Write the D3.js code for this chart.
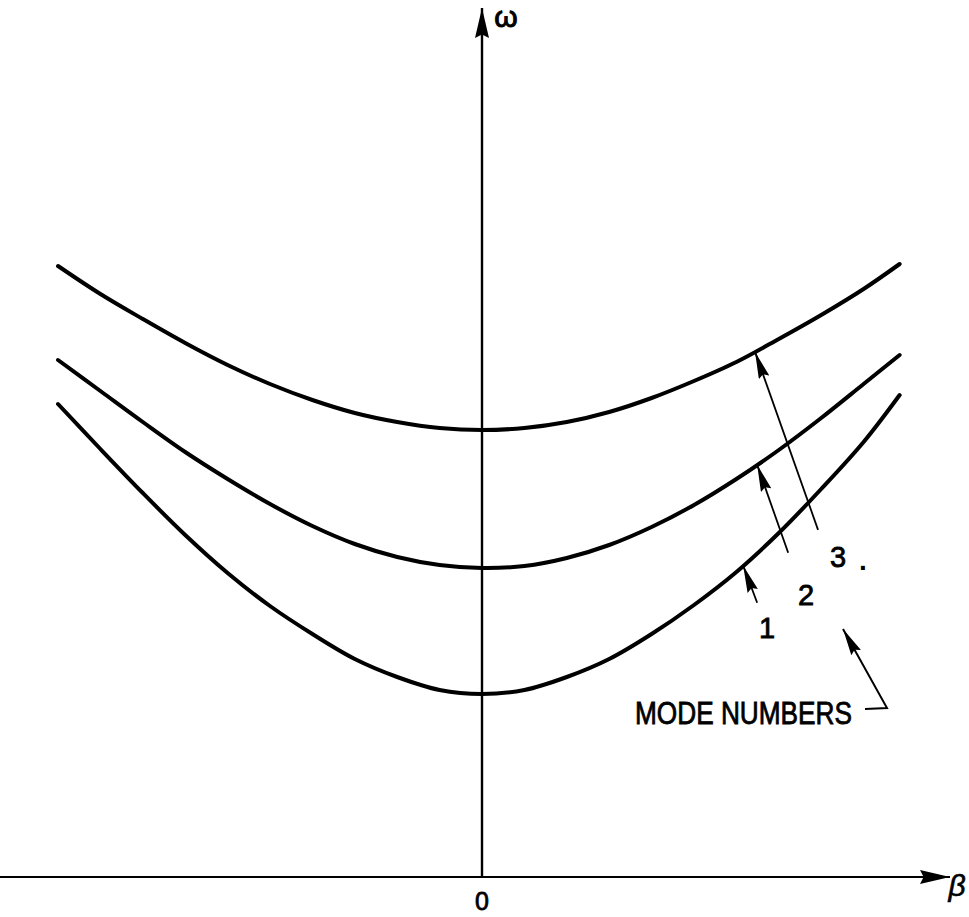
<!DOCTYPE html>
<html>
<head>
<meta charset="utf-8">
<script src="https://cdn.jsdelivr.net/npm/d3@7"></script>
<style>
  html, body { margin: 0; padding: 0; background: #fff; }
  svg { display: block; }
  text { font-family: "Liberation Sans", Arial, sans-serif; fill: #000; }
</style>
</head>
<body>
<svg id="chart" width="969" height="917"></svg>
<script>
// Dispersion curves: frequency ω against wavenumber β for the first three modes
const beta = [-1.0, -0.9, -0.8, -0.7, -0.6, -0.5, -0.4, -0.3, -0.2, -0.1, 0,
              0.1, 0.2, 0.3, 0.4, 0.5, 0.6, 0.7, 0.8, 0.9, 0.985];
const mode1 = [4.73, 4.28, 3.84, 3.42, 3.04, 2.71, 2.43, 2.18, 2.00, 1.87, 1.83,
               1.87, 2.00, 2.18, 2.43, 2.72, 3.05, 3.44, 3.88, 4.35, 4.82];
const mode2 = [5.17, 4.86, 4.55, 4.25, 3.98, 3.73, 3.51, 3.33, 3.20, 3.12, 3.09,
               3.11, 3.19, 3.32, 3.50, 3.72, 3.98, 4.27, 4.59, 4.93, 5.22];
const mode3 = [6.11, 5.83, 5.58, 5.34, 5.12, 4.93, 4.77, 4.64, 4.55, 4.49, 4.47,
               4.49, 4.55, 4.65, 4.79, 4.96, 5.15, 5.38, 5.62, 5.88, 6.13];
const modeLabels = ["1", "2", "3"];
// β at which each mode-number pointer touches its curve
const pointerBeta = [0.616, 0.649, 0.644];
const tickLabels = ["0"];
const axisLabels = { x: "β", y: "ω" };
const noteText = "MODE NUMBERS";

const svg = d3.select("#chart");
const x = d3.scaleLinear().domain([-1, 1]).range([58, 906]);
const y = d3.scaleLinear().domain([0, 8.77]).range([877, 0]);

// arrowhead markers
const defs = svg.append("defs");
function dart(id, len, half) {
  defs.append("marker")
    .attr("id", id)
    .attr("viewBox", `0 ${-half} ${len} ${2 * half}`)
    .attr("refX", len).attr("refY", 0)
    .attr("markerUnits", "userSpaceOnUse")
    .attr("markerWidth", len).attr("markerHeight", 2 * half)
    .attr("orient", "auto")
    .append("path")
    .attr("d", `M0,${-half} L${len},0 L0,${half} L${len * 0.12},0 Z`)
    .attr("fill", "#000");
}
dart("axisHead", 30, 7);
dart("ptrHead", 27, 5.5);

// axes
const x0 = x(0), yBase = y(0);
svg.append("line")
  .attr("x1", 0).attr("y1", yBase).attr("x2", 950).attr("y2", yBase)
  .attr("stroke", "#000").attr("stroke-width", 2.2)
  .attr("marker-end", "url(#axisHead)");
svg.append("line")
  .attr("x1", x0).attr("y1", yBase).attr("x2", x0).attr("y2", 8)
  .attr("stroke", "#000").attr("stroke-width", 2.4)
  .attr("marker-end", "url(#axisHead)");

svg.append("text").text(tickLabels[0])
  .attr("x", x0).attr("y", 910).attr("text-anchor", "middle")
  .attr("font-size", 25).attr("stroke", "#000").attr("stroke-width", 0.8);
svg.append("text").text(axisLabels.y)
  .attr("x", 506).attr("y", 27).attr("text-anchor", "middle")
  .attr("font-size", 30).attr("stroke", "#000").attr("stroke-width", 1);
svg.append("text").text(axisLabels.x)
  .attr("x", 957).attr("y", 896).attr("text-anchor", "middle")
  .attr("font-size", 30).attr("font-style", "italic")
  .attr("stroke", "#000").attr("stroke-width", 0.6);

// curves
const line = d3.line()
  .x((d, i) => x(beta[i]))
  .y(d => y(d))
  .curve(d3.curveCatmullRom.alpha(0.5));
const modes = [mode1, mode2, mode3];
svg.selectAll("path.mode").data(modes).join("path")
  .attr("class", "mode")
  .attr("d", line)
  .attr("fill", "none")
  .attr("stroke", "#000")
  .attr("stroke-width", 4)
  .attr("stroke-linecap", "round");

// mode-number pointers
const interp = (vals, b) => {
  const i = d3.bisectLeft(beta, b);
  const t = (b - beta[i - 1]) / (beta[i] - beta[i - 1]);
  return vals[i - 1] + t * (vals[i] - vals[i - 1]);
};
const tailOffset = [[14, 37], [31, 88], [63, 178]];
const labelPos = [[767, 638], [806, 605], [838, 567]];
modes.forEach((vals, k) => {
  const tx = x(pointerBeta[k]);
  const ty = y(interp(vals, pointerBeta[k]));
  svg.append("line")
    .attr("x1", tx + tailOffset[k][0]).attr("y1", ty + tailOffset[k][1])
    .attr("x2", tx).attr("y2", ty)
    .attr("stroke", "#000").attr("stroke-width", 1.8)
    .attr("marker-end", "url(#ptrHead)");
  svg.append("text").text(modeLabels[k])
    .attr("x", labelPos[k][0]).attr("y", labelPos[k][1])
    .attr("text-anchor", "middle").attr("font-size", 29)
    .attr("stroke", "#000").attr("stroke-width", 0.8);
});
svg.append("text").text(".")
  .attr("x", 863).attr("y", 570).attr("text-anchor", "middle")
  .attr("font-size", 28).attr("font-weight", "bold");

// "MODE NUMBERS" note with its leader
svg.append("text").text(noteText)
  .attr("x", 635).attr("y", 724).attr("font-size", 31)
  .attr("stroke", "#000").attr("stroke-width", 0.8)
  .attr("textLength", 217).attr("lengthAdjust", "spacingAndGlyphs");
svg.append("path")
  .attr("d", "M865,709 L887,708 L843,629")
  .attr("fill", "none").attr("stroke", "#000").attr("stroke-width", 2)
  .attr("marker-end", "url(#ptrHead)");
</script>
</body>
</html>
